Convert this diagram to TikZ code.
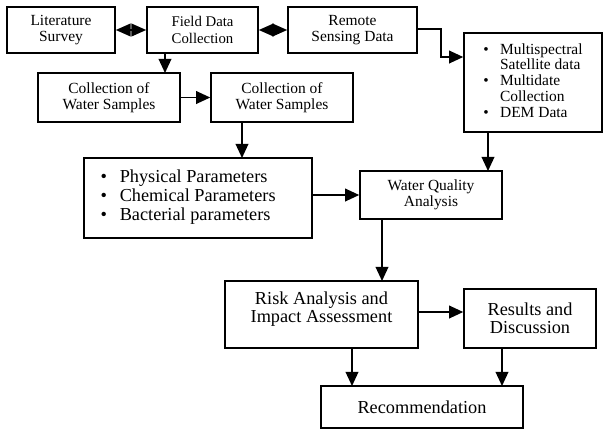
\documentclass[tikz,border=0pt]{standalone}
\usepackage{fontspec}
\setmainfont{Liberation Serif}
\usepackage{tikz}
\usetikzlibrary{arrows.meta}

\begin{document}
\begin{tikzpicture}[x=0.025cm, y=-0.025cm,
	box/.style={rectangle, draw=black, line width=1.1pt, align=center, inner sep=2pt, font=\fontsize{11}{11.5}\selectfont},
	bigtext/.style={font=\fontsize{13}{12.5}\selectfont},
	every path/.style={draw=black, line width=1.1pt},
	arr/.style={-{Triangle[length=10pt, width=9pt]}},
	twoarr/.style={{Triangle[length=10.5pt, width=9pt]}-{Triangle[length=10.5pt, width=9pt]}}]
			\path[use as bounding box, draw=none] (0,0) rectangle (604,430);
			\node[box, minimum width=108*0.025cm, minimum height=46*0.025cm] (lit) at (61,30){Literature\\Survey};
			\node[box, minimum width=111*0.025cm, minimum height=46*0.025cm, font=\fontsize{10.5}{11.5}\selectfont] (field) at (202.5,30){Field Data\\Collection};
			\node[box, minimum width=129*0.025cm, minimum height=46*0.025cm] (remote) at (352.5,30){Remote\\Sensing Data};
			\node[box, minimum width=138*0.025cm, minimum height=99*0.025cm, font=\fontsize{11}{11.2}\selectfont] (multi) at (533,82.5){%
				\begin{tabular}{@{}l@{\hspace{8pt}}l@{}}
				\textbullet & Multispectral\\ & Satellite data\\
				\textbullet & Multidate\\ & Collection\\
				\textbullet & DEM Data
				\end{tabular}};
			\node[box, minimum width=142*0.025cm, minimum height=49*0.025cm] (coll1) at (109,97.5){Collection of\\Water Samples};
			\node[box, minimum width=142*0.025cm, minimum height=49*0.025cm] (coll2) at (282,97.5){Collection of\\Water Samples};
			\node[box, minimum width=228*0.025cm, minimum height=80*0.025cm, font=\fontsize{13}{13.5}\selectfont] (param) at (198,198){%
				\begin{tabular}{@{}l@{\hspace{9pt}}l@{}}
				\textbullet & Physical Parameters\\
				\textbullet & Chemical Parameters\\
				\textbullet & Bacterial parameters
				\end{tabular}\hspace{14pt}};
			\node[box, minimum width=142*0.025cm, minimum height=48*0.025cm] (wqa) at (431,195){Water Quality\\Analysis};
			\node[box, bigtext, minimum width=193*0.025cm, minimum height=67*0.025cm] (risk) at (321.5,314.5){Risk Analysis and\\Impact Assessment\\[-2pt]};
			\node[box, bigtext, minimum width=132*0.025cm, minimum height=59*0.025cm] (res) at (530,318.5){Results and\\Discussion};
			\node[box, bigtext, minimum width=202*0.025cm, minimum height=42*0.025cm] (rec) at (422,407){Recommendation};
			
			\coordinate (r1) at (441,29);
			\coordinate (r2) at (441,57);
			
			\path[twoarr] (lit) -- (field);
			\path[twoarr] (field) -- (remote);
			\path[arr] (165,53) -- (165,73);
			\path[arr] (coll1) -- (coll2);
			\path[arr] (242,122) -- (242,158);
			\path[arr] (remote.east |- r1) -- (r1) -- (r2) -- (multi.west |- r2);
			\path[arr] (488,132) -- (488,171);
			\path[arr] (param.east |- wqa) -- (wqa);
			\path[arr] (382,219) -- (382,281);
			\path[arr] (risk.east |- 0,312) -- (res.west |- 0,312);
			\path[arr] (352,348) -- (352,386);
			\path[arr] (502,348) -- (502,386);
			\end{tikzpicture}
\end{document}
